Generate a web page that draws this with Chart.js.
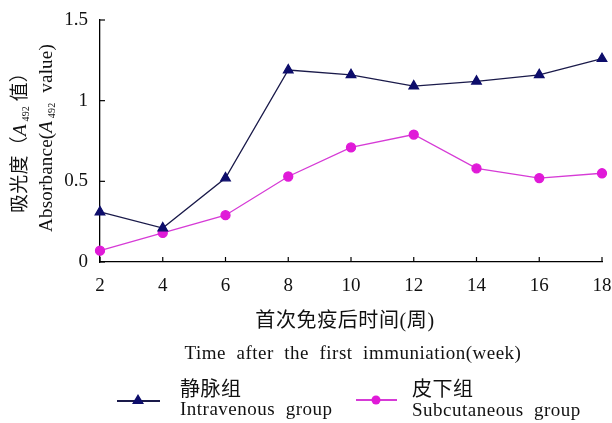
<!DOCTYPE html>
<html>
<head>
<meta charset="utf-8">
<script src="https://cdn.jsdelivr.net/npm/chart.js@4"></script>
<style>
  body { margin: 0; background: #fff; }
  #wrap { width: 612px; height: 423px; }
</style>
</head>
<body>
<div id="wrap"><canvas id="lineChart"></canvas></div>
<script>
const weeks = ['2', '4', '6', '8', '10', '12', '14', '16', '18'];
const intravenous = [0.31, 0.21, 0.52, 1.19, 1.16, 1.09, 1.12, 1.16, 1.26];
const subcutaneous = [0.07, 0.18, 0.29, 0.53, 0.71, 0.79, 0.58, 0.52, 0.55];
const yTicks = [0, 0.5, 1, 1.5];

const serif = '"Liberation Serif", "Times New Roman", serif';
const cjk = '"Noto Sans CJK SC", sans-serif';

// draw a run of text pieces, each with its own font and baseline shift
function drawRuns(c, runs, x, y, spacing) {
  c.letterSpacing = (spacing || 0) + 'px';
  let w = 0;
  runs.forEach(r => { c.font = r.font; w += c.measureText(r.t).width; });
  let cx = x - w / 2;
  runs.forEach(r => {
    c.font = r.font;
    c.fillText(r.t, cx, y + (r.dy || 0));
    cx += c.measureText(r.t).width;
  });
  c.letterSpacing = '0px';
}

const extras = {
  id: 'extras',
  afterDraw(chart) {
    const c = chart.ctx;
    const xs = chart.scales.x, ys = chart.scales.y;
    const area = chart.chartArea;
    c.save();
    c.strokeStyle = '#000';
    c.lineWidth = 1.2;
    // inward tick marks
    weeks.forEach((w, i) => {
      const px = xs.getPixelForValue(i);
      c.beginPath(); c.moveTo(px, area.bottom); c.lineTo(px, area.bottom - 5); c.stroke();
    });
    yTicks.forEach(v => {
      const py = ys.getPixelForValue(v);
      c.beginPath(); c.moveTo(area.left, py); c.lineTo(area.left + 5, py); c.stroke();
    });

    c.fillStyle = '#111';
    c.textBaseline = 'alphabetic';
    c.textAlign = 'left';
    // x titles
    drawRuns(c, [{t: '首次免疫后时间', font: '20px ' + cjk}, {t: '(', font: '20px ' + serif},
                 {t: '周', font: '20px ' + cjk}, {t: ')', font: '20px ' + serif}], 345, 327, 0.6);
    drawRuns(c, [{t: 'Time  after  the  first  immuniation(week)', font: '19px ' + serif}], 353, 359, 0.5);

    // y titles (rotated)
    c.save();
    c.translate(26, 138);
    c.rotate(-Math.PI / 2);
    drawRuns(c, [
      {t: '吸光度（', font: '19px ' + cjk},
      {t: 'A', font: 'italic 19px ' + serif},
      {t: ' 492', font: '10px ' + serif, dy: 3},
      {t: ' 值）', font: '19px ' + cjk}
    ], 0, 0, 0.2);
    drawRuns(c, [
      {t: 'Absorbance(', font: '19px ' + serif},
      {t: 'A', font: 'italic 19px ' + serif},
      {t: ' 492', font: '10px ' + serif, dy: 3},
      {t: '  value)', font: '19px ' + serif}
    ], 0, 26, 0.2);
    c.restore();

    // legend
    c.lineWidth = 2;
    c.strokeStyle = '#1a1a4a';
    c.beginPath(); c.moveTo(117, 401); c.lineTo(160, 401); c.stroke();
    c.fillStyle = '#0d0d6b';
    c.beginPath(); c.moveTo(138, 394); c.lineTo(144, 404); c.lineTo(132, 404); c.closePath(); c.fill();
    c.strokeStyle = '#d63bd6';
    c.beginPath(); c.moveTo(356, 400); c.lineTo(397, 400); c.stroke();
    c.fillStyle = '#e01ad8';
    c.beginPath(); c.arc(376, 400, 4.5, 0, Math.PI * 2); c.fill();

    c.fillStyle = '#111';
    c.letterSpacing = '0.5px';
    c.font = '20px ' + cjk; c.fillText('静脉组', 180, 396);
    c.font = '19px ' + serif; c.fillText('Intravenous  group', 180, 415);
    c.font = '20px ' + cjk; c.fillText('皮下组', 412, 396);
    c.font = '19px ' + serif; c.fillText('Subcutaneous  group', 412, 416);
    c.restore();
  }
};

new Chart(document.getElementById('lineChart'), {
  type: 'line',
  data: {
    labels: weeks,
    datasets: [{
      label: '静脉组 Intravenous group',
      data: intravenous,
      borderColor: '#1a1a4a',
      borderWidth: 1.3,
      pointStyle: 'triangle',
      pointRadius: 5.5,
      pointBackgroundColor: '#0d0d6b',
      pointBorderColor: '#0d0d6b',
      tension: 0
    }, {
      label: '皮下组 Subcutaneous group',
      data: subcutaneous,
      borderColor: '#d63bd6',
      borderWidth: 1.3,
      pointStyle: 'circle',
      pointRadius: 4.5,
      pointBackgroundColor: '#e01ad8',
      pointBorderColor: '#e01ad8',
      tension: 0
    }]
  },
  options: {
    responsive: true,
    maintainAspectRatio: false,
    animation: false,
    layout: { padding: { left: 0, right: 0, top: 20, bottom: 0 } },
    plugins: { legend: { display: false }, tooltip: { enabled: false } },
    scales: {
      x: {
        offset: false,
        grid: { display: false },
        border: { display: true, color: '#000', width: 1.3 },
        ticks: { color: '#111', font: { family: serif, size: 19 }, padding: 5, maxRotation: 0 },
        afterFit: s => { s.height = 161; s.paddingRight = 10; }
      },
      y: {
        min: 0, max: 1.5,
        afterBuildTicks: s => { s.ticks = yTicks.map(v => ({ value: v })); },
        grid: { display: false },
        border: { display: true, color: '#000', width: 1.3 },
        ticks: { color: '#111', font: { family: serif, size: 19 }, padding: 4,
                 callback: v => String(v) },
        afterFit: s => { s.width = 100; }
      }
    }
  },
  plugins: [extras]
});
</script>
</body>
</html>
